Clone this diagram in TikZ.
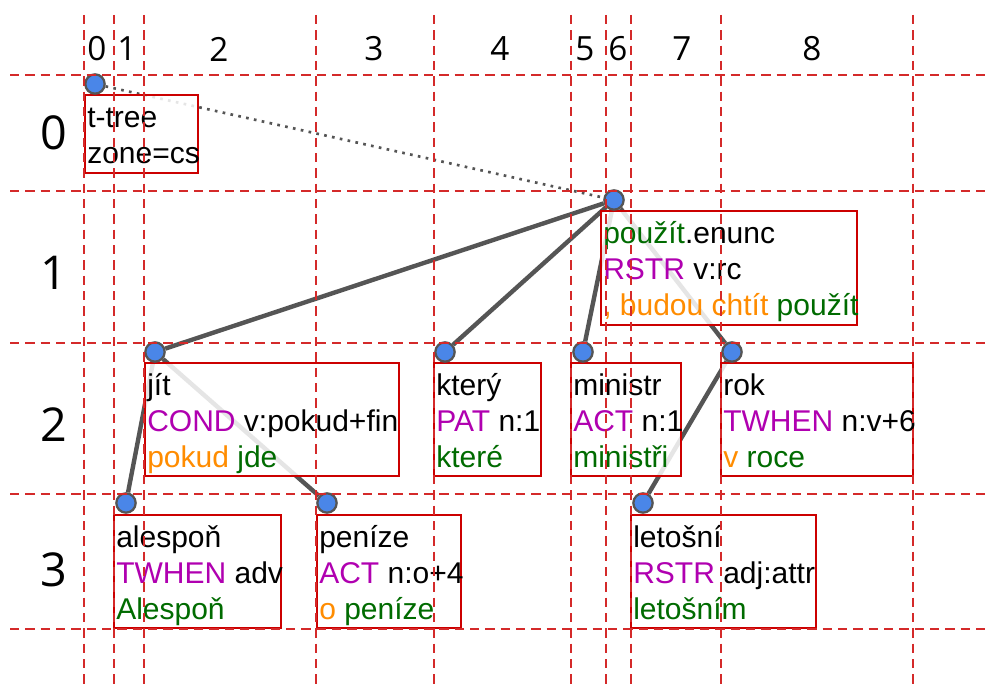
\documentclass[tikz,border=0pt]{standalone}
\usepackage{fontspec}
\setmainfont{Liberation Sans}
\newfontfamily\idxfont{Open Sans}

\definecolor{gridred}{HTML}{D42A2A}
\definecolor{boxred}{HTML}{CC0000}
\definecolor{lexgreen}{HTML}{006B00}
\definecolor{funmag}{HTML}{B000B0}
\definecolor{auxorange}{HTML}{FF8C00}
\definecolor{edgegray}{HTML}{555555}
\definecolor{dotblue}{HTML}{4A86E8}

\pgfdeclarelayer{edges}
\pgfdeclarelayer{boxes}
\pgfsetlayers{edges,boxes,main}

\tikzset{
  tnode/.style={circle, fill=dotblue, draw=edgegray, line width=1.7pt, minimum size=14.5pt, inner sep=0pt},
  tedge/.style={draw=edgegray, line width=3.3pt},
  tdots/.style={draw=edgegray, line width=2pt, dash pattern=on 2pt off 4pt},
  tbox/.style={draw=boxred, line width=2pt, fill=white, fill opacity=0.85},
  ttext/.style={font=\fontsize{22.5}{27}\selectfont, inner sep=0pt, anchor=base west},
  gridline/.style={draw=gridred, line width=0.9pt, dash pattern=on 7pt off 4.5pt},
  collabel/.style={font=\idxfont\fontsize{25}{30}\selectfont, inner sep=0pt},
  rowlabel/.style={font=\idxfont\fontsize{35}{42}\selectfont, inner sep=0pt},
}

% colour of the parts of a label
\newcommand{\tfun}[1]{\textcolor{funmag}{#1}}
\newcommand{\taux}[1]{\textcolor{auxorange}{#1}}
\newcommand{\tlex}[1]{\textcolor{lexgreen}{#1}}
% lines of a label, fixed spacing, baseline on the first line
\newcommand{\tlines}[1]{\vtop{\lineskiplimit=-\maxdimen\baselineskip=27pt #1}}

\begin{document}
\begin{tikzpicture}[x=0.75pt,y=-0.75pt]
  \useasboundingbox (0,0) rectangle (987,688);

  % tree nodes
  \node[tnode] (TT) at (95,84) {};
  \node[tnode] (PZ) at (614,200) {};
  \node[tnode] (JIT) at (155,352) {};
  \node[tnode] (KT) at (445,352) {};
  \node[tnode] (MIN) at (583,352) {};
  \node[tnode] (ROK) at (732,352) {};
  \node[tnode] (ALE) at (126,503) {};
  \node[tnode] (PEN) at (327,503) {};
  \node[tnode] (LET) at (643,503) {};

  \begin{pgfonlayer}{edges}
    \path[tdots] (TT) edge (PZ);
    \path[tedge] (PZ) edge (JIT);
    \path[tedge] (PZ) edge (KT);
    \path[tedge] (PZ) edge (MIN);
    \path[tedge] (PZ) edge (ROK);
    \path[tedge] (JIT) edge (ALE);
    \path[tedge] (JIT) edge (PEN);
    \path[tedge] (ROK) edge (LET);
  \end{pgfonlayer}

  \begin{pgfonlayer}{boxes}
    \draw[tbox] (85,95) rectangle (198,173);
    \draw[tbox] (601,211) rectangle (857,325);
    \draw[tbox] (145,363) rectangle (399,476);
    \draw[tbox] (434,363) rectangle (541,476);
    \draw[tbox] (571,363) rectangle (681,476);
    \draw[tbox] (721,363) rectangle (913,476);
    \draw[tbox] (114,515) rectangle (281,628);
    \draw[tbox] (317,515) rectangle (461,628);
    \draw[tbox] (631,515) rectangle (816,628);
  \end{pgfonlayer}

  % labels
  \node[ttext] (TT-l) at (87,127.5) {\tlines{\hbox{t-tree}\hbox{zone=cs}}};
  \node[ttext] (PZ-l) at (603,243.5) {\tlines{\hbox{\tlex{použít}.enunc}\hbox{\tfun{RSTR} v:rc}\hbox{\taux{, budou chtít} \tlex{použít}}}};
  \node[ttext] (JIT-l) at (147,395.5) {\tlines{\hbox{jít}\hbox{\tfun{COND} v:pokud+fin}\hbox{\taux{pokud} \tlex{jde}}}};
  \node[ttext] (KT-l) at (436,395.5) {\tlines{\hbox{který}\hbox{\tfun{PAT} n:1}\hbox{\tlex{které}}}};
  \node[ttext] (MIN-l) at (573,395.5) {\tlines{\hbox{ministr}\hbox{\tfun{ACT} n:1}\hbox{\tlex{ministři}}}};
  \node[ttext] (ROK-l) at (723,395.5) {\tlines{\hbox{rok}\hbox{\tfun{TWHEN} n:v+6}\hbox{\taux{v} \tlex{roce}}}};
  \node[ttext] (ALE-l) at (116,547.5) {\tlines{\hbox{alespoň}\hbox{\tfun{TWHEN} adv}\hbox{\tlex{Alespoň}}}};
  \node[ttext] (PEN-l) at (319,547.5) {\tlines{\hbox{peníze}\hbox{\tfun{ACT} n:o+4}\hbox{\taux{o} \tlex{peníze}}}};
  \node[ttext] (LET-l) at (633,547.5) {\tlines{\hbox{letošní}\hbox{\tfun{RSTR} adj:attr}\hbox{\tlex{letošním}}}};

  % grid
  \foreach \gx in {84,114,144,316,434,571,606,631,721,913}
    \draw[gridline] (\gx,15) -- (\gx,688);
  \foreach \gy in {75,191,343,494,629}
    \draw[gridline] (10,\gy) -- (987,\gy);

  % column and row numbers
  \foreach \cx/\cn in {97/0,127/1,219/2,374/3,500/4,585/5,618/6,682/7,812/8}
    \node[collabel] (C\cn) at (\cx,49) {\cn};
  \foreach \ry/\rn in {133/0,273/1,425/2,570/3}
    \node[rowlabel] (R\rn) at (54,\ry) {\rn};
\end{tikzpicture}
\end{document}
